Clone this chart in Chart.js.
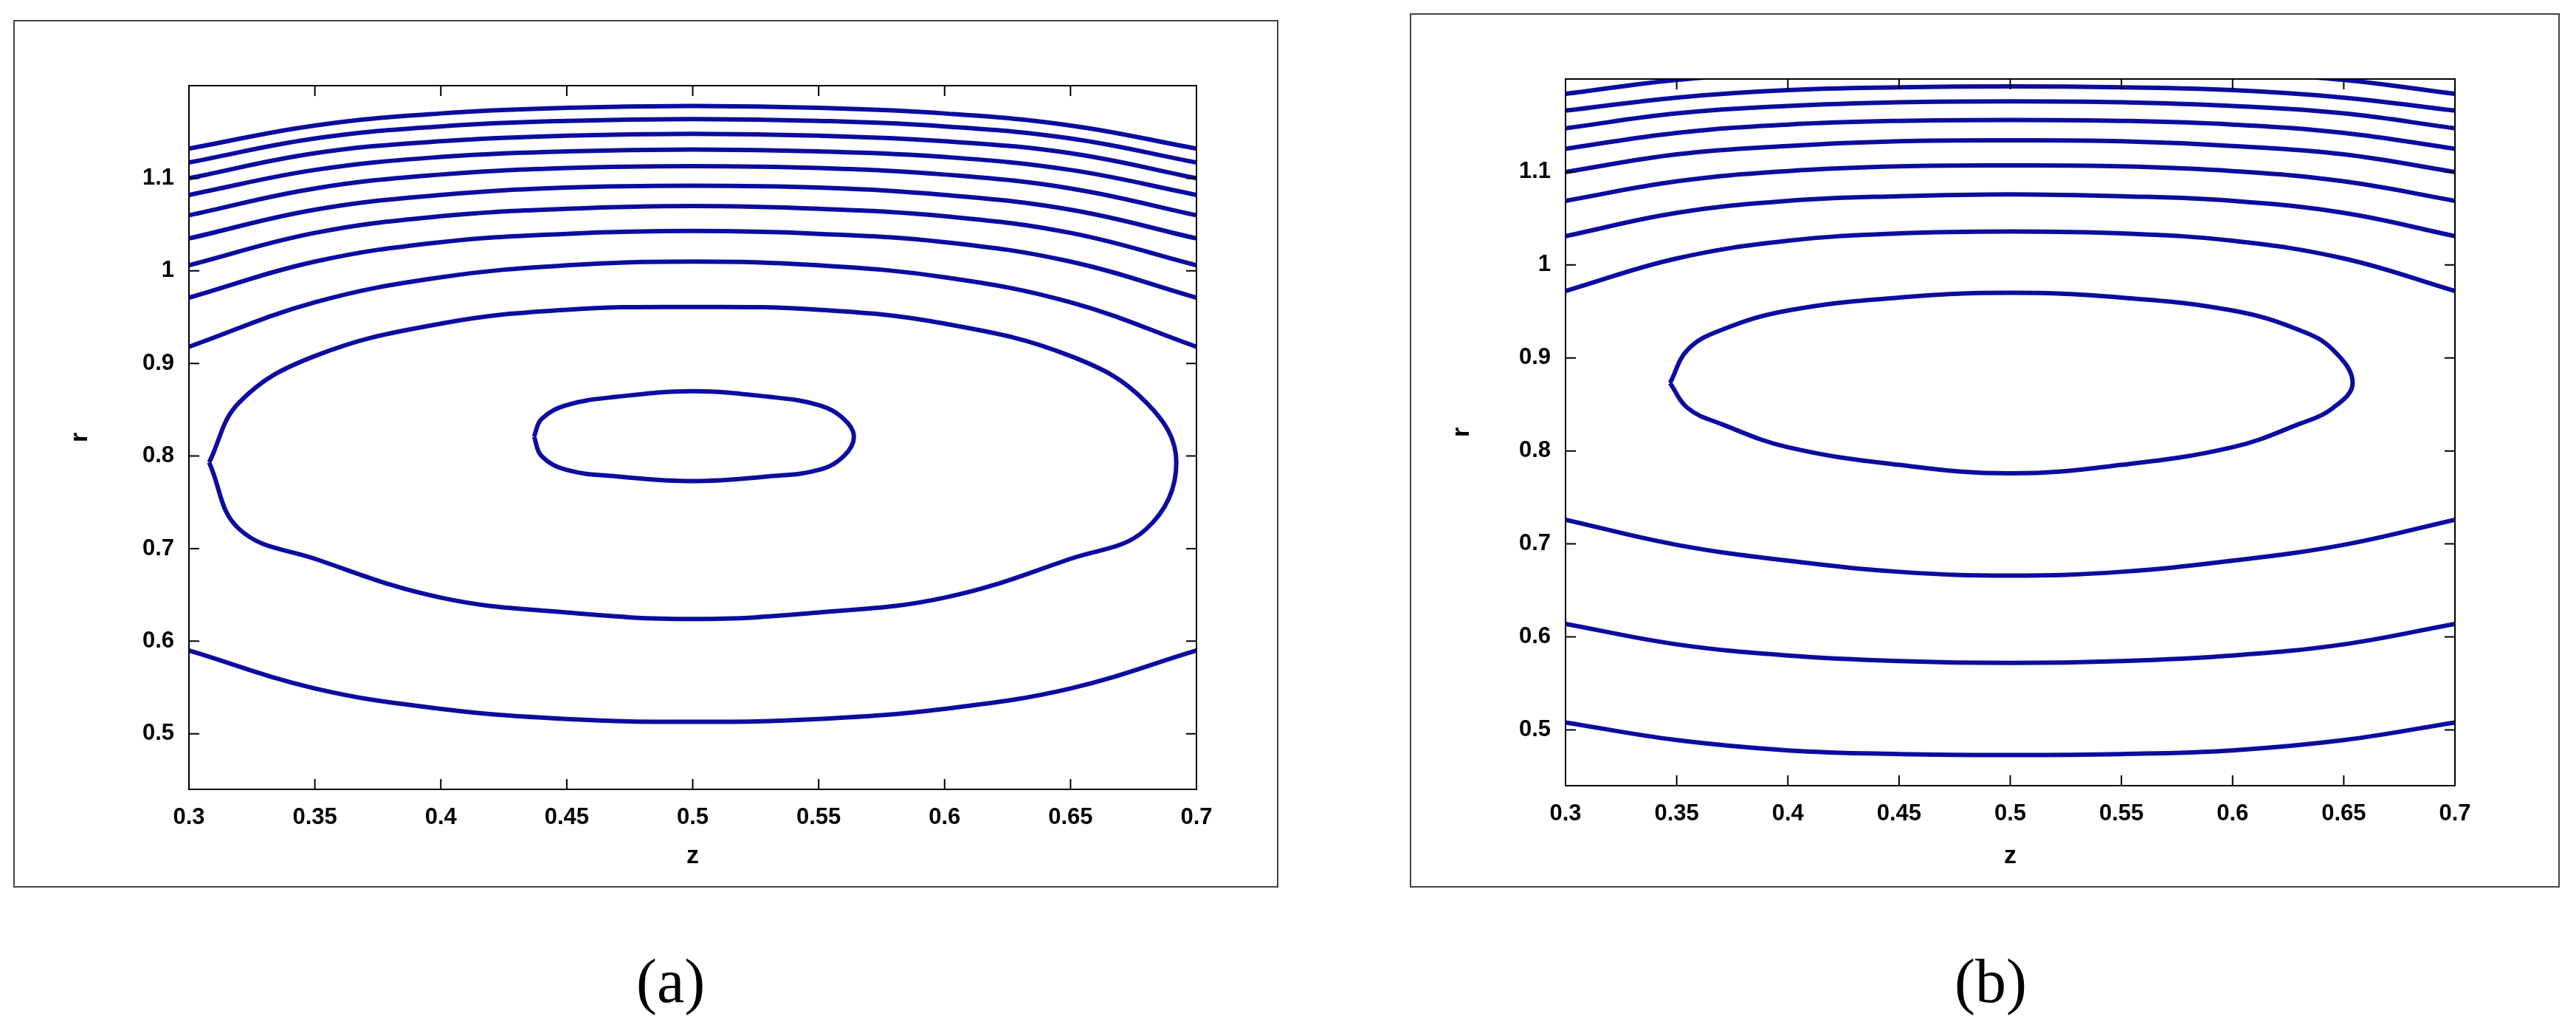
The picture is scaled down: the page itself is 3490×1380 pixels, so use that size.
<!DOCTYPE html>
<html>
<head>
<meta charset="utf-8">
<script src="https://cdn.jsdelivr.net/npm/chart.js@4.4.1/dist/chart.umd.min.js"></script>
<style>
  body { margin: 0; width: 3490px; height: 1380px; background: #fff; position: relative; overflow: hidden; }
  .panel { position: absolute; border: 2px solid #444; box-sizing: border-box; background: #fff; }
  .cap { position: absolute; font-family: 'Liberation Serif', 'Times New Roman', serif; font-size: 84px; }
</style>
</head>
<body>
<div class="panel" id="pa" style="left:18px;top:27px;width:1714px;height:1175px;"><canvas id="chartA"></canvas></div>
<div class="panel" id="pb" style="left:1910px;top:18px;width:1558px;height:1184px;"><canvas id="chartB"></canvas></div>
<div class="cap" style="left:862px;top:1280px;">(a)</div>
<div class="cap" style="left:2648px;top:1280px;">(b)</div>
<script>
/* ── Data ── */
const zTicks = [0.3, 0.35, 0.4, 0.45, 0.5, 0.55, 0.6, 0.65, 0.7];
const rTicks = [0.5, 0.6, 0.7, 0.8, 0.9, 1.0, 1.1];
const zLine = [0.3, 0.35, 0.4, 0.45, 0.5, 0.55, 0.6, 0.65, 0.7];

// panel (a) open contours, r at each zLine point
const aOpen = [
  [1.132, 1.157, 1.170, 1.176, 1.178, 1.176, 1.170, 1.157, 1.132],
  [1.117, 1.143, 1.156, 1.162, 1.164, 1.162, 1.156, 1.143, 1.117],
  [1.100, 1.127, 1.140, 1.146, 1.148, 1.146, 1.140, 1.127, 1.100],
  [1.082, 1.109, 1.123, 1.129, 1.131, 1.129, 1.123, 1.109, 1.082],
  [1.060, 1.089, 1.104, 1.111, 1.113, 1.111, 1.104, 1.089, 1.060],
  [1.035, 1.066, 1.082, 1.090, 1.092, 1.090, 1.082, 1.066, 1.035],
  [1.006, 1.041, 1.059, 1.067, 1.070, 1.067, 1.059, 1.041, 1.006],
  [0.971, 1.010, 1.031, 1.040, 1.043, 1.040, 1.031, 1.010, 0.971],
  [0.918, 0.966, 0.993, 1.006, 1.010, 1.006, 0.993, 0.966, 0.918],
  [0.590, 0.549, 0.527, 0.516, 0.513, 0.516, 0.527, 0.549, 0.590]
];
// panel (a) closed contours
const aBigZ = [0.308, 0.32, 0.35, 0.40, 0.45, 0.50, 0.55, 0.60, 0.65, 0.68, 0.692, 0.68, 0.65, 0.60, 0.55, 0.50, 0.45, 0.40, 0.35, 0.32, 0.308];
const aBigR = [0.793, 0.858, 0.908, 0.943, 0.958, 0.961, 0.958, 0.943, 0.908, 0.858, 0.793, 0.721, 0.689, 0.647, 0.631, 0.624, 0.631, 0.647, 0.689, 0.721, 0.793];
const aSmallZ = [0.437, 0.44, 0.45, 0.47, 0.50, 0.53, 0.55, 0.56, 0.564, 0.56, 0.55, 0.53, 0.50, 0.47, 0.45, 0.44, 0.437];
const aSmallR = [0.821, 0.840, 0.855, 0.864, 0.870, 0.864, 0.855, 0.840, 0.821, 0.800, 0.785, 0.778, 0.773, 0.778, 0.785, 0.800, 0.821];

// panel (b) open contours
const bOpen = [
  [1.184, 1.199, 1.207, 1.211, 1.212, 1.211, 1.207, 1.199, 1.184],
  [1.166, 1.180, 1.188, 1.191, 1.192, 1.191, 1.188, 1.180, 1.166],
  [1.147, 1.163, 1.171, 1.175, 1.176, 1.175, 1.171, 1.163, 1.147],
  [1.125, 1.142, 1.151, 1.155, 1.156, 1.155, 1.151, 1.142, 1.125],
  [1.100, 1.119, 1.128, 1.133, 1.134, 1.133, 1.128, 1.119, 1.100],
  [1.069, 1.090, 1.101, 1.106, 1.107, 1.106, 1.101, 1.090, 1.069],
  [1.031, 1.056, 1.069, 1.074, 1.076, 1.074, 1.069, 1.056, 1.031],
  [0.972, 1.007, 1.026, 1.034, 1.036, 1.034, 1.026, 1.007, 0.972],
  [0.726, 0.699, 0.682, 0.670, 0.666, 0.670, 0.682, 0.699, 0.726],
  [0.614, 0.592, 0.580, 0.574, 0.572, 0.574, 0.580, 0.592, 0.614],
  [0.508, 0.489, 0.478, 0.474, 0.473, 0.474, 0.478, 0.489, 0.508]
];
const bEllZ = [0.347, 0.355, 0.37, 0.40, 0.45, 0.50, 0.55, 0.60, 0.63, 0.645, 0.654, 0.645, 0.63, 0.60, 0.55, 0.50, 0.45, 0.40, 0.37, 0.355, 0.347];
const bEllR = [0.873, 0.909, 0.930, 0.951, 0.965, 0.970, 0.965, 0.951, 0.930, 0.909, 0.873, 0.846, 0.829, 0.804, 0.785, 0.776, 0.785, 0.804, 0.829, 0.846, 0.873];

/* ── Helpers ── */
const LINE = '#0c0ca0';
const FONT = "'Liberation Sans Narrow', 'Liberation Sans', Arial, sans-serif";

function openSet(rows) {
  return rows.map((r) => ({ data: zLine.map((z, i) => ({ x: z, y: r[i] })) }));
}
function loopSet(zs, rs) {
  return { data: zs.map((z, i) => ({ x: z, y: rs[i] })) };
}
function fmt(v) {
  return String(+v.toFixed(2));
}

// MATLAB-like box with inward ticks
const boxPlugin = {
  id: 'box',
  afterDraw(chart) {
    const { ctx, chartArea: a, scales } = chart;
    ctx.save();
    ctx.strokeStyle = '#000';
    ctx.lineWidth = 2;
    ctx.strokeRect(a.left, a.top, a.right - a.left, a.bottom - a.top);
    const t = 14;
    ctx.beginPath();
    zTicks.forEach((z) => {
      const px = scales.x.getPixelForValue(z);
      ctx.moveTo(px, a.bottom); ctx.lineTo(px, a.bottom - t);
      ctx.moveTo(px, a.top); ctx.lineTo(px, a.top + t);
    });
    rTicks.forEach((r) => {
      const py = scales.y.getPixelForValue(r);
      ctx.moveTo(a.left, py); ctx.lineTo(a.left + t, py);
      ctx.moveTo(a.right, py); ctx.lineTo(a.right - t, py);
    });
    ctx.stroke();
    ctx.restore();
  },
};

function makeChart(id, datasets, pad, yWidth, xHeight) {
  new Chart(document.getElementById(id), {
    type: 'scatter',
    data: {
      datasets: datasets.map((d) => ({
        ...d,
        showLine: true,
        borderColor: LINE,
        borderWidth: 6,
        pointRadius: 0,
        tension: 0.4,
      })),
    },
    options: {
      responsive: true,
      maintainAspectRatio: false,
      animation: false,
      layout: { padding: pad },
      plugins: { legend: { display: false }, tooltip: { enabled: false } },
      scales: {
        x: {
          type: 'linear', min: 0.3, max: 0.7,
          afterBuildTicks: (s) => { s.ticks = zTicks.map((v) => ({ value: v })); },
          afterFit: (s) => { s.height = xHeight; },
          grid: { display: false },
          border: { display: false },
          ticks: { callback: fmt, color: '#000', padding: 12, maxRotation: 0, font: { family: FONT, size: 31, weight: 'bold' } },
          title: { display: true, text: 'z', color: '#000', padding: 0, font: { family: FONT, size: 34, weight: 'bold' } },
        },
        y: {
          type: 'linear', min: 0.44, max: 1.2,
          afterBuildTicks: (s) => { s.ticks = rTicks.map((v) => ({ value: v })); },
          afterFit: (s) => { s.width = yWidth; },
          grid: { display: false },
          border: { display: false },
          ticks: { callback: fmt, color: '#000', padding: 12, font: { family: FONT, size: 31, weight: 'bold' } },
          title: { display: true, text: 'r', color: '#000', padding: 8, font: { family: FONT, size: 34, weight: 'bold' } },
        },
      },
    },
    plugins: [boxPlugin],
  });
}

makeChart('chartA',
  [...openSet(aOpen), loopSet(aBigZ, aBigR), loopSet(aSmallZ, aSmallR)],
  { left: 60, right: 109, top: 87, bottom: 20 }, 176, 111);

makeChart('chartB',
  [...openSet(bOpen), loopSet(bEllZ, bEllR)],
  { left: 40, right: 140, top: 87, bottom: 20 }, 169, 116);
</script>
</body>
</html>
